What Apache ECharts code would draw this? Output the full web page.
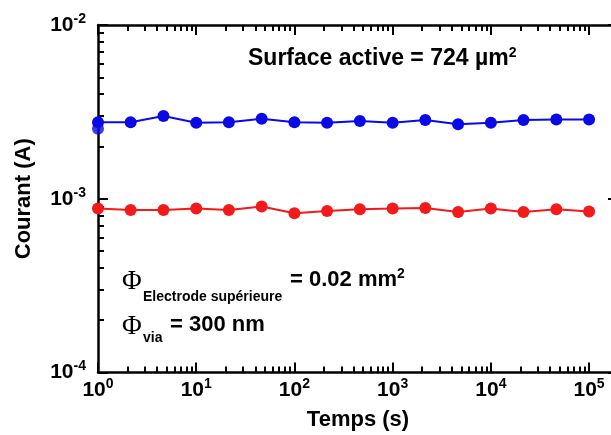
<!DOCTYPE html>
<html>
<head>
<meta charset="utf-8">
<script src="https://cdn.jsdelivr.net/npm/echarts@6/dist/echarts.min.js"></script>
<style>html,body{margin:0;padding:0;background:#fff}#c{width:611px;height:435px}</style>
</head>
<body>
<div id="c"></div>
<script>
// ---- data ----
const times = [1, 2.15, 4.64, 10, 21.5, 46.4, 100, 215, 464, 1000, 2150, 4640, 10000, 21500, 46400, 100000];
const blueCurrent = [2.76e-3, 2.76e-3, 2.99e-3, 2.74e-3, 2.76e-3, 2.89e-3, 2.76e-3, 2.74e-3, 2.80e-3, 2.74e-3, 2.84e-3, 2.68e-3, 2.74e-3, 2.84e-3, 2.86e-3, 2.86e-3];
const blueExtraTime = [1];
const blueExtraCurrent = [2.53e-3];
const redCurrent = [8.78e-4, 8.62e-4, 8.62e-4, 8.78e-4, 8.62e-4, 9.02e-4, 8.25e-4, 8.51e-4, 8.70e-4, 8.78e-4, 8.85e-4, 8.40e-4, 8.78e-4, 8.40e-4, 8.70e-4, 8.44e-4];
const xMajorTicks = [1, 10, 100, 1000, 10000, 100000];
const yMajorTicks = [1e-4, 1e-3, 1e-2];
const xMin = 1, xMax = 197000;
const yMin = 1e-4, yMax = 1e-2;

function minorsOf(majors) {
  const out = [];
  majors.forEach(m => { for (let k = 2; k <= 9; k++) out.push(m * k); });
  return out;
}
const xMinorTicks = minorsOf(xMajorTicks).filter(v => v < xMax);
const yMinorTicks = minorsOf(yMajorTicks).filter(v => v < yMax);

const FONT = 'Liberation Sans, Arial, sans-serif';
const SERIF = 'Liberation Serif, DejaVu Serif, serif';
const pow10Label = v => '{b|10}{s|' + Math.round(Math.log10(v)) + '}';
const labelRich = {
  b: { fontFamily: FONT, fontWeight: 'bold', fontSize: 21, color: '#000', lineHeight: 26 },
  s: { fontFamily: FONT, fontWeight: 'bold', fontSize: 14, color: '#000', verticalAlign: 'top', lineHeight: 26 }
};

function xAx(grid, pos, vals, len, labels, line) {
  return {
    type: 'log', gridIndex: grid, position: pos, min: xMin, max: xMax,
    axisLine: { show: line, lineStyle: { color: '#000', width: 2.5 } },
    axisTick: { show: true, inside: true, length: len, customValues: vals, lineStyle: { color: '#000', width: 2 } },
    axisLabel: labels ? { show: true, customValues: xMajorTicks, formatter: pow10Label, rich: labelRich, margin: 5 } : { show: false },
    splitLine: { show: false }, minorTick: { show: false }, minorSplitLine: { show: false },
    name: labels ? 'Temps (s)' : '', nameLocation: 'middle', nameGap: 36,
    nameTextStyle: { fontFamily: FONT, fontWeight: 'bold', fontSize: 22, color: '#000' }
  };
}
function yAx(grid, pos, vals, len, labels, line) {
  return {
    type: 'log', gridIndex: grid, position: pos, min: yMin, max: yMax,
    axisLine: { show: line, lineStyle: { color: '#000', width: 2.5 } },
    axisTick: { show: true, inside: true, length: len, customValues: vals, lineStyle: { color: '#000', width: 2 } },
    axisLabel: labels ? { show: true, customValues: yMajorTicks, formatter: pow10Label, rich: labelRich, margin: 12 } : { show: false },
    splitLine: { show: false }, minorTick: { show: false }, minorSplitLine: { show: false },
    name: labels ? 'Courant (A)' : '', nameLocation: 'middle', nameGap: 63, nameRotate: 90,
    nameTextStyle: { fontFamily: FONT, fontWeight: 'bold', fontSize: 22, color: '#000' }
  };
}

const gridBox = { left: 98, right: -7, top: 25, bottom: 62.5, containLabel: false, outerBoundsMode: 'none' };

const supRich = (size, supSize, lh) => ({
  t: { fontFamily: FONT, fontWeight: 'bold', fontSize: size, fill: '#000', lineHeight: lh },
  s: { fontFamily: FONT, fontWeight: 'bold', fontSize: supSize, fill: '#000', verticalAlign: 'top', lineHeight: lh }
});

const option = {
  animation: false,
  backgroundColor: '#fff',
  grid: [Object.assign({}, gridBox), Object.assign({}, gridBox)],
  xAxis: [
    xAx(0, 'bottom', xMajorTicks, 10, true, true),
    xAx(0, 'top', xMajorTicks, 10, false, true),
    xAx(1, 'bottom', xMinorTicks, 6, false, false),
    xAx(1, 'top', xMinorTicks, 6, false, false)
  ],
  yAxis: [
    yAx(0, 'left', yMajorTicks, 10, true, true),
    yAx(0, 'right', yMajorTicks, 10, false, true),
    yAx(1, 'left', yMinorTicks, 6, false, false),
    yAx(1, 'right', yMinorTicks, 6, false, false)
  ],
  series: [
    {
      type: 'line', xAxisIndex: 0, yAxisIndex: 0,
      data: times.map((t, i) => [t, blueCurrent[i]]),
      symbol: 'circle', symbolSize: 12,
      lineStyle: { color: '#0a0ae6', width: 2 }, itemStyle: { color: '#0a0ae6' }
    },
    {
      type: 'scatter', xAxisIndex: 0, yAxisIndex: 0,
      data: blueExtraTime.map((t, i) => [t, blueExtraCurrent[i]]),
      symbol: 'circle', symbolSize: 12, itemStyle: { color: '#0a0ae6' }
    },
    {
      type: 'line', xAxisIndex: 0, yAxisIndex: 0,
      data: times.map((t, i) => [t, redCurrent[i]]),
      symbol: 'circle', symbolSize: 12,
      lineStyle: { color: '#f21a1a', width: 2 }, itemStyle: { color: '#f21a1a' }
    }
  ],
  graphic: [
    { type: 'text', x: 248, y: 59, style: { text: '{t|Surface active = 724 µm}{s|2}', verticalAlign: 'middle', rich: supRich(23, 14, 26) } },
    { type: 'text', x: 122, y: 282, style: { text: 'Φ', fontFamily: SERIF, fontSize: 27, fill: '#000', verticalAlign: 'middle' } },
    { type: 'text', x: 143, y: 297, style: { text: 'Electrode supérieure', fontFamily: FONT, fontWeight: 'bold', fontSize: 14, fill: '#000', verticalAlign: 'middle' } },
    { type: 'text', x: 290, y: 280, style: { text: '{t|= 0.02 mm}{s|2}', verticalAlign: 'middle', rich: supRich(22, 14, 26) } },
    { type: 'text', x: 122, y: 327, style: { text: 'Φ', fontFamily: SERIF, fontSize: 27, fill: '#000', verticalAlign: 'middle' } },
    { type: 'text', x: 143, y: 338, style: { text: 'via', fontFamily: FONT, fontWeight: 'bold', fontSize: 14, fill: '#000', verticalAlign: 'middle' } },
    { type: 'text', x: 170, y: 325, style: { text: '= 300 nm', fontFamily: FONT, fontWeight: 'bold', fontSize: 22, fill: '#000', verticalAlign: 'middle' } }
  ]
};

const chart = echarts.init(document.getElementById('c'), null, { renderer: 'canvas' });
chart.setOption(option);
</script>
</body>
</html>
